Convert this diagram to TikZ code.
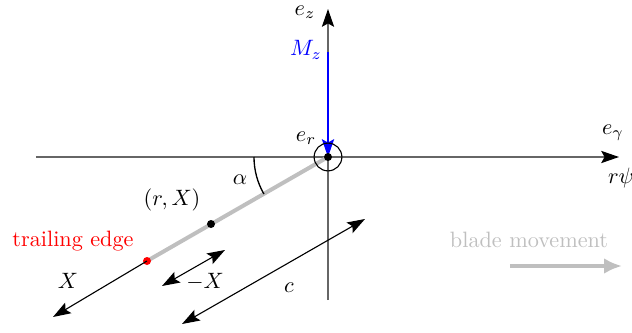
\documentclass[tikz,border=0pt]{standalone}
\usetikzlibrary{arrows.meta}
\begin{document}
\begin{tikzpicture}[x=0.45pt,y=-0.45pt,
  axis/.style={draw=black!60,line width=0.6pt,-{Stealth[length=8pt,width=5.5pt,inset=1.5pt,color=black]}},
  dim/.style={draw=black,line width=0.5pt,{Stealth[length=8pt,width=5.5pt,inset=1.5pt]}-{Stealth[length=8pt,width=5.5pt,inset=1.5pt]}},
  dimone/.style={draw=black,line width=0.5pt,-{Stealth[length=8pt,width=5.5pt,inset=1.5pt]}},
  lbl/.style={inner sep=1pt}]
\useasboundingbox (0,0) rectangle (632,333);
% coordinates
\coordinate (O) at (328,157);
\coordinate (TE) at (147,261);
\coordinate (P) at (211,224);
\coordinate (xl) at (36,157);
\coordinate (xr) at (619,157);
\coordinate (zb) at (328,300);
\coordinate (zt) at (328,9);
\coordinate (mt) at (328,52);
% axes
\draw[axis] (xl) -- (xr);
\draw[axis] (zb) -- (zt);
% blade
\draw[black!25,line width=1.8pt] (O) -- (TE);
% angle arc
\draw[black,line width=0.6pt] (254,157) arc[start angle=180,end angle=150,radius=74];
% blue moment
\draw[blue,line width=0.8pt,-{Stealth[length=8pt,width=5.5pt,inset=1.5pt]}] (mt) -- (O);
% circle and dots
\node[draw=black,circle,minimum size=12.5pt,inner sep=0pt,line width=0.5pt] (ring) at (O) {};
\fill[black] (O) circle[radius=4];
\fill[black] (P) circle[radius=4];
\fill[red] (TE) circle[radius=4];
% dimension arrows
\coordinate (xe) at (53,317);
\draw[dimone] (TE) -- (xe);
\coordinate (mx1) at (162,286);
\coordinate (mx2) at (225,250);
\draw[dim] (mx1) -- (mx2);
\coordinate (c1) at (182,324);
\coordinate (c2) at (365,219);
\draw[dim] (c1) -- (c2);
% blade movement
\coordinate (bm1) at (510,266);
\coordinate (bm2) at (622,266);
\draw[black!25,line width=1.8pt,-{Latex[length=8pt,width=7pt]}] (bm1) -- (bm2);
% labels
\node[lbl] (lez) at (305,12) {$e_z$};
\node[lbl,text=blue] (lmz) at (306,50) {$M_z$};
\node[lbl] (ler) at (306,138) {$e_r$};
\node[lbl] (leg) at (613,133) {$e_\gamma$};
\node[lbl] (lrp) at (621,178) {$r\psi$};
\node[lbl] (la) at (240,180) {$\alpha$};
\node[lbl] (lrx) at (172,200) {$(r,X)$};
\node[lbl,text=red] (lte) at (73,241) {trailing edge};
\node[lbl] (lX) at (68,281) {$X$};
\node[lbl] (lmX) at (205,282) {$-X$};
\node[lbl] (lc) at (289,288) {$c$};
\node[lbl,text=black!25] (lbm) at (529,240) {blade movement};
\end{tikzpicture}
\end{document}
